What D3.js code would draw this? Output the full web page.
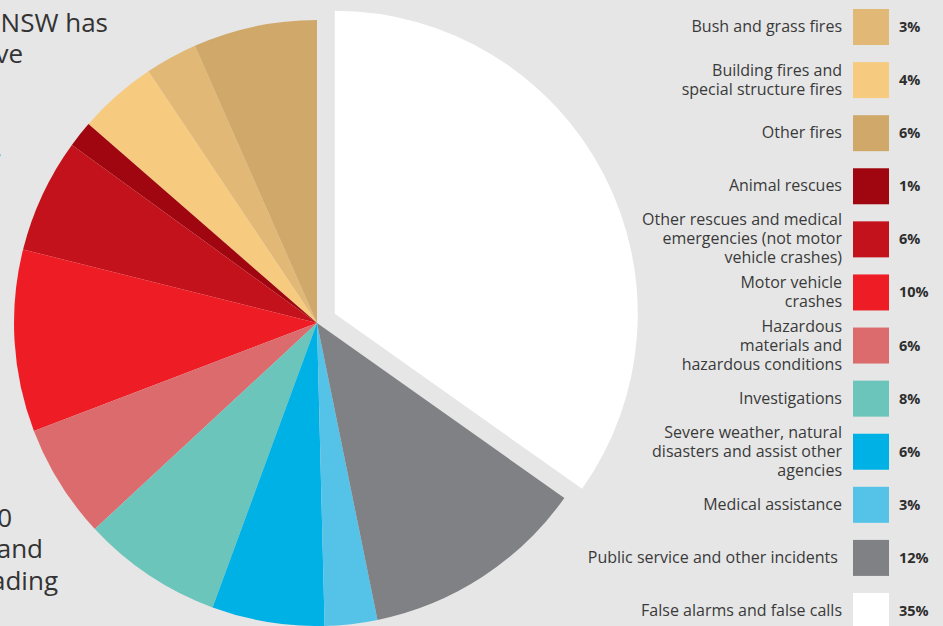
<!DOCTYPE html>
<html>
<head>
<meta charset="utf-8">
<script src="https://cdn.jsdelivr.net/npm/d3@7"></script>
<style>
  html, body { margin: 0; padding: 0; background: #e6e6e6; }
  svg { display: block; font-family: 'Open Sans', 'DejaVu Sans', sans-serif; }
  .legend-label { font-size: 16px; fill: #3a3a3a; }
  .legend-pct { font-size: 14.5px; font-weight: 700; fill: #2e2e2e; }
  .body-text { font-size: 26px; fill: #333; }
</style>
</head>
<body>
<div id="chart"></div>
<script>
// legend categories, top to bottom
const categories = [
  'Bush and grass fires',
  'Building fires and\nspecial structure fires',
  'Other fires',
  'Animal rescues',
  'Other rescues and medical\nemergencies (not motor\nvehicle crashes)',
  'Motor vehicle\ncrashes',
  'Hazardous\nmaterials and\nhazardous conditions',
  'Investigations',
  'Severe weather, natural\ndisasters and assist other\nagencies',
  'Medical assistance',
  'Public service and other incidents\u00a0',
  'False alarms and false calls'
];

// percentages printed in the legend
const pctLabels = ['3%', '4%', '6%', '1%', '6%', '10%', '6%', '8%', '6%', '3%', '12%', '35%'];

// slice shares (per cent)
const shares = [2.8, 4.2, 6.6, 1.4, 6.1, 9.7, 6.1, 7.5, 6.0, 2.8, 12.0, 34.8];

const colors = [
  '#e2b876', '#f6cb80', '#cfa86a', '#a0060f', '#c3121b', '#ee1d25',
  '#dc6b6e', '#6bc5bb', '#00b1e6', '#55c2e8', '#808184', '#ffffff'
];

// clockwise order of the slices, starting at 12 o'clock (legend index)
const sliceOrder = [11, 10, 9, 8, 7, 6, 5, 4, 3, 1, 0, 2];

// fragments of the page's body copy that peek out from behind the pie
const bodyTop = ['NSW has', 've', '', '', '.'];
const bodyBottom = ['0', 'and', 'ading'];
const bodyTopEnds = [108, 23, 0, 0, 2];
const bodyBottomEnds = [12, 43, 58];

const width = 943;
const height = 626;
const radius = 303;
const cx = 317;
const cy = 323;
const explodeIndex = 11;
const explodeDist = 20;

const rows = categories.map((c, i) => ({
  index: i,
  label: c,
  pct: pctLabels[i],
  share: shares[i],
  color: colors[i]
}));

const svg = d3.select('#chart')
  .append('svg')
  .attr('width', width)
  .attr('height', height);

svg.append('rect')
  .attr('width', width)
  .attr('height', height)
  .attr('fill', '#e6e6e6');

// BODY TEXT (behind the pie)
const lineH = 31.4;
const body = svg.append('g');
body.selectAll('.top')
  .data(bodyTop)
  .enter()
  .append('text')
  .attr('class', 'body-text')
  .attr('text-anchor', 'end')
  .attr('x', (d, i) => bodyTopEnds[i])
  .attr('y', (d, i) => 31.7 + i * lineH)
  .text(d => d);

body.selectAll('.bottom')
  .data(bodyBottom)
  .enter()
  .append('text')
  .attr('class', 'body-text')
  .attr('text-anchor', 'end')
  .attr('x', (d, i) => bodyBottomEnds[i])
  .attr('y', (d, i) => 527 + i * lineH)
  .text(d => d);

// PIE
const pie = d3.pie()
  .value(d => d.share)
  .sort((a, b) => sliceOrder.indexOf(a.index) - sliceOrder.indexOf(b.index));

const arc = d3.arc().innerRadius(0).outerRadius(radius);

const slices = svg.append('g')
  .attr('transform', `translate(${cx}, ${cy})`);

slices.selectAll('path')
  .data(pie(rows))
  .enter()
  .append('path')
  .attr('d', arc)
  .attr('fill', d => d.data.color)
  .attr('transform', d => {
    if (d.data.index !== explodeIndex) return null;
    const mid = (d.startAngle + d.endAngle) / 2;
    return `translate(${Math.sin(mid) * explodeDist}, ${-Math.cos(mid) * explodeDist})`;
  });

// LEGEND
const y = d3.scalePoint()
  .domain(rows.map(d => d.index))
  .range([27, 611]);

const swatchX = 853;
const swatchSize = 36;
const labelX = 842;
const labelLineH = 19;

const legend = svg.append('g');

const items = legend.selectAll('.item')
  .data(rows)
  .enter()
  .append('g')
  .attr('transform', d => `translate(0, ${y(d.index)})`);

items.append('rect')
  .attr('x', swatchX)
  .attr('y', -swatchSize / 2)
  .attr('width', swatchSize)
  .attr('height', swatchSize)
  .attr('fill', d => d.color);

items.append('text')
  .attr('class', 'legend-pct')
  .attr('x', 899)
  .attr('y', 5)
  .text(d => d.pct);

items.each(function(d) {
  const lines = d.label.split('\n');
  const t = d3.select(this)
    .append('text')
    .attr('class', 'legend-label')
    .attr('text-anchor', 'end');
  lines.forEach((l, i) => {
    t.append('tspan')
      .attr('x', labelX)
      .attr('y', 5 + (i - (lines.length - 1) / 2) * labelLineH)
      .text(l);
  });
});
</script>
</body>
</html>
